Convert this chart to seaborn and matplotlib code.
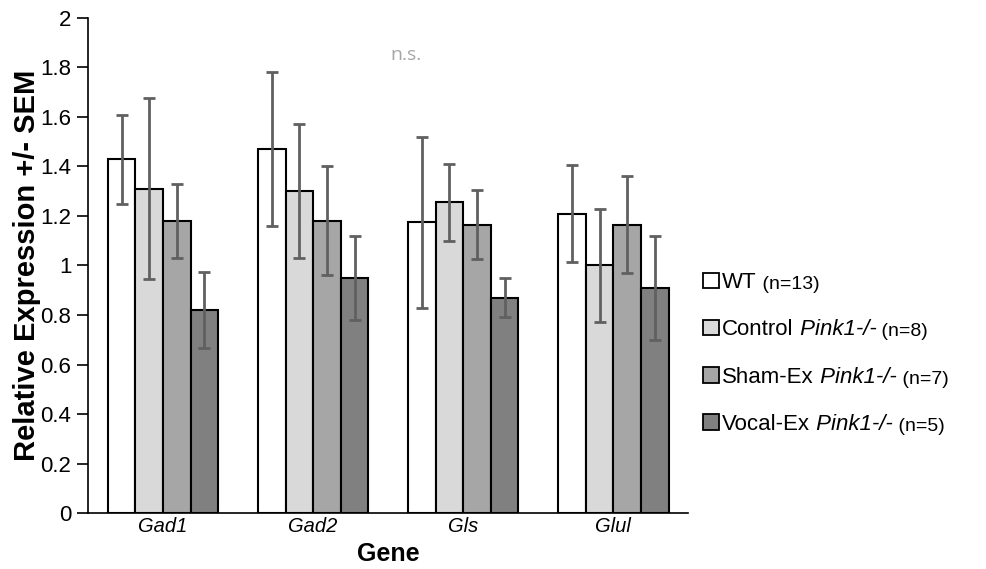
#!/usr/bin/env python3

import pandas as pd
import seaborn as sns
import matplotlib
matplotlib.use('Agg')
import matplotlib.pyplot as plt
from matplotlib.patches import Patch

genes = ['Gad1', 'Gad2', 'Gls', 'Glul']
groups = ['WT', 'Control', 'Sham-Ex', 'Vocal-Ex']
group_n = ['(n=13)', '(n=8)', '(n=7)', '(n=5)']

# mean relative expression per group, one list per gene
expr_gad1 = [1.43, 1.31, 1.18, 0.82]
expr_gad2 = [1.47, 1.30, 1.18, 0.95]
expr_gls = [1.175, 1.255, 1.165, 0.87]
expr_glul = [1.21, 1.00, 1.165, 0.91]

# SEM per group
sem_gad1 = [0.18, 0.365, 0.15, 0.155]
sem_gad2 = [0.31, 0.27, 0.22, 0.17]
sem_gls = [0.345, 0.155, 0.14, 0.08]
sem_glul = [0.195, 0.23, 0.195, 0.21]

palette = ['#ffffff', '#d9d9d9', '#a6a6a6', '#808080']

rows = []
for gene, ex, se in zip(genes,
                        [expr_gad1, expr_gad2, expr_gls, expr_glul],
                        [sem_gad1, sem_gad2, sem_gls, sem_glul]):
    for grp, m, s in zip(groups, ex, se):
        rows.append({'gene': gene, 'group': grp, 'expr': m, 'sem': s})
df = pd.DataFrame(rows)

sns.set_theme(style="ticks")
plt.rcParams['font.family'] = ['Liberation Sans', 'DejaVu Sans']
for key in ['text.color', 'axes.labelcolor', 'xtick.color', 'ytick.color',
            'axes.edgecolor']:
    plt.rcParams[key] = 'black'

fig = plt.figure(figsize=(9.86, 5.69), dpi=100)
ax = fig.add_axes([0.0892, 0.0984, 0.609, 0.870])

sns.barplot(data=df, x='gene', y='expr', hue='group', order=genes,
            hue_order=groups, palette=palette, width=0.735, gap=0,
            edgecolor='black', linewidth=1.5, errorbar=None, legend=False,
            saturation=1, ax=ax)

# error bars, one container per hue level
for grp, cont in zip(groups, ax.containers):
    sub = df[df['group'] == grp].set_index('gene').loc[genes]
    xs = [p.get_x() + p.get_width() / 2 for p in cont.patches]
    ax.errorbar(xs, sub['expr'], yerr=sub['sem'], fmt='none',
                ecolor='#606060', elinewidth=2, capsize=4.5, capthick=2,
                zorder=5)

ax.set_xlim(-0.5, 3.5)
ax.set_ylim(0, 2)
ax.set_yticks([i / 5 for i in range(11)])
ax.set_yticklabels(['0', '0.2', '0.4', '0.6', '0.8', '1', '1.2', '1.4',
                    '1.6', '1.8', '2'], fontsize=16)
ax.tick_params(axis='y', length=8, width=1.2, pad=4)
ax.tick_params(axis='x', length=0, pad=3)
for lab in ax.get_xticklabels():
    lab.set_fontstyle('italic')
    lab.set_fontsize(14.5)

sns.despine(ax=ax)
for sp in ['left', 'bottom']:
    ax.spines[sp].set_linewidth(1.2)

ax.set_xlabel('Gene', fontsize=18, fontweight='bold', labelpad=4)
ax.set_ylabel('Relative Expression +/- SEM', fontsize=21,
              fontweight='bold')
ax.yaxis.set_label_coords(-0.078, 0.5)

ax.text(1.62, 1.85, 'n.s.', color='#a6a6a6', fontsize=14,
        ha='center', va='center', family=['Open Sans', 'DejaVu Sans'])

# legend: boxes with plain labels, italic gene and smaller n appended
handles = [Patch(facecolor=c, edgecolor='black', linewidth=1.3)
           for c in palette]
leg = ax.legend(handles, groups, loc='center left',
                bbox_to_anchor=(1.01, 0.322), frameon=False, fontsize=16,
                handlelength=0.7, handleheight=0.7, handletextpad=0.15,
                labelspacing=1.18, borderaxespad=0)
fig.canvas.draw()
for i, txt in enumerate(leg.get_texts()):
    prev = txt
    if i > 0:
        prev = ax.annotate(' Pink1-/-', xy=(1, 0), xycoords=txt,
                           va='bottom', ha='left', fontsize=16,
                           fontstyle='italic')
    ax.annotate(' ' + group_n[i], xy=(1, 0), xycoords=prev,
                va='bottom', ha='left', fontsize=14)

fig.savefig('out.png', dpi=100)
